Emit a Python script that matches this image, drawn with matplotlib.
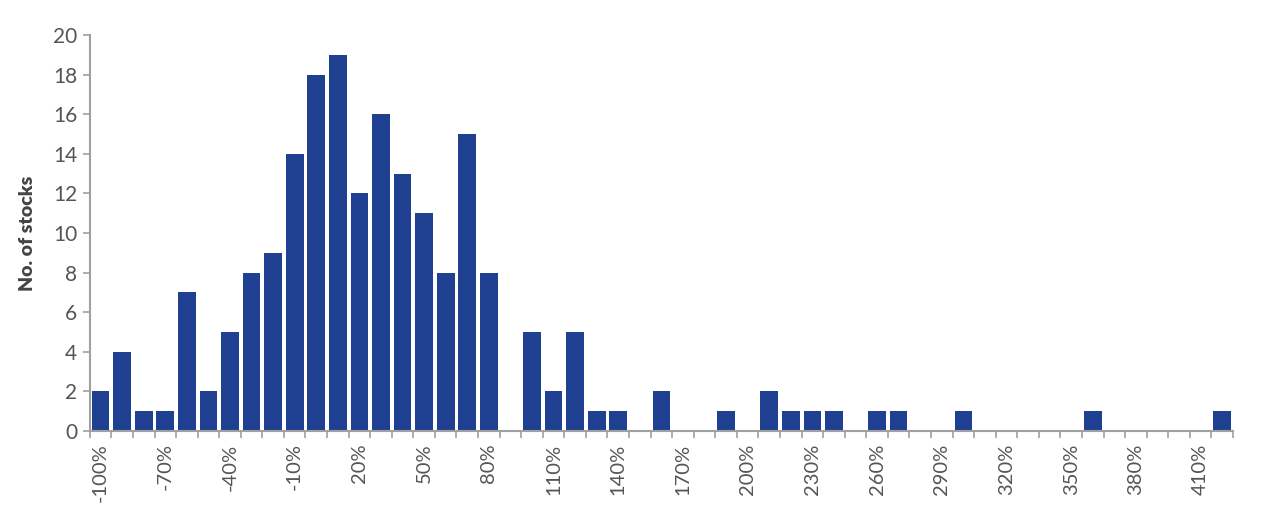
import numpy as np
import matplotlib
matplotlib.use("Agg")
import matplotlib.pyplot as plt

# return buckets, 10% steps from -100% to 420%
buckets = list(range(-100, 421, 10))
counts = [2, 4, 1, 1, 7, 2, 5, 8, 9, 14,
          18, 19, 12, 16, 13, 11, 8, 15, 8, 0,
          5, 2, 5, 1, 1, 0, 2, 0, 0, 1,
          0, 2, 1, 1, 1, 0, 1, 1, 0, 0,
          1, 0, 0, 0, 0, 0, 1, 0, 0, 0,
          0, 0, 1]
tick_labels = ["%d%%" % b if i % 3 == 0 else "" for i, b in enumerate(buckets)]

bar_color = "#1f3f91"
grey = "#555555"
axis_grey = "#a0a0a0"

plt.rcParams['font.family'] = ['Lato', 'DejaVu Sans']

fig = plt.figure(figsize=(12.83, 5.23), dpi=100)
ax = fig.add_axes([0.070, 0.176, 0.891, 0.757])

x = np.arange(len(buckets))
ax.bar(x, counts, width=0.82, color=bar_color, edgecolor="none")

ax.set_xlim(-0.5, len(buckets) - 0.5)
ax.set_ylim(0, 20)
ax.set_yticks(range(0, 21, 2))

# ticks sit on the bucket edges, labels on the bucket centres
ax.set_xticks(np.arange(len(buckets) + 1) - 0.5)
ax.set_xticklabels([])
ax.set_xticks(x, minor=True)
ax.set_xticklabels(tick_labels, minor=True, rotation=90, fontsize=14.5, color=grey)
ax.tick_params(axis="x", which="minor", length=0, pad=9)
ax.tick_params(axis="x", which="major", length=5, color=axis_grey, width=1.2)
ax.tick_params(axis="y", length=5, color=axis_grey, width=1.2, labelsize=15, labelcolor=grey, pad=4)

for s in ["top", "right"]:
    ax.spines[s].set_visible(False)
for s in ["left", "bottom"]:
    ax.spines[s].set_color(axis_grey)
    ax.spines[s].set_linewidth(1.5)

ax.set_ylabel("No. of stocks", fontsize=14, fontweight="heavy", color="#444444", labelpad=12)

fig.savefig("out.png", dpi=100)
